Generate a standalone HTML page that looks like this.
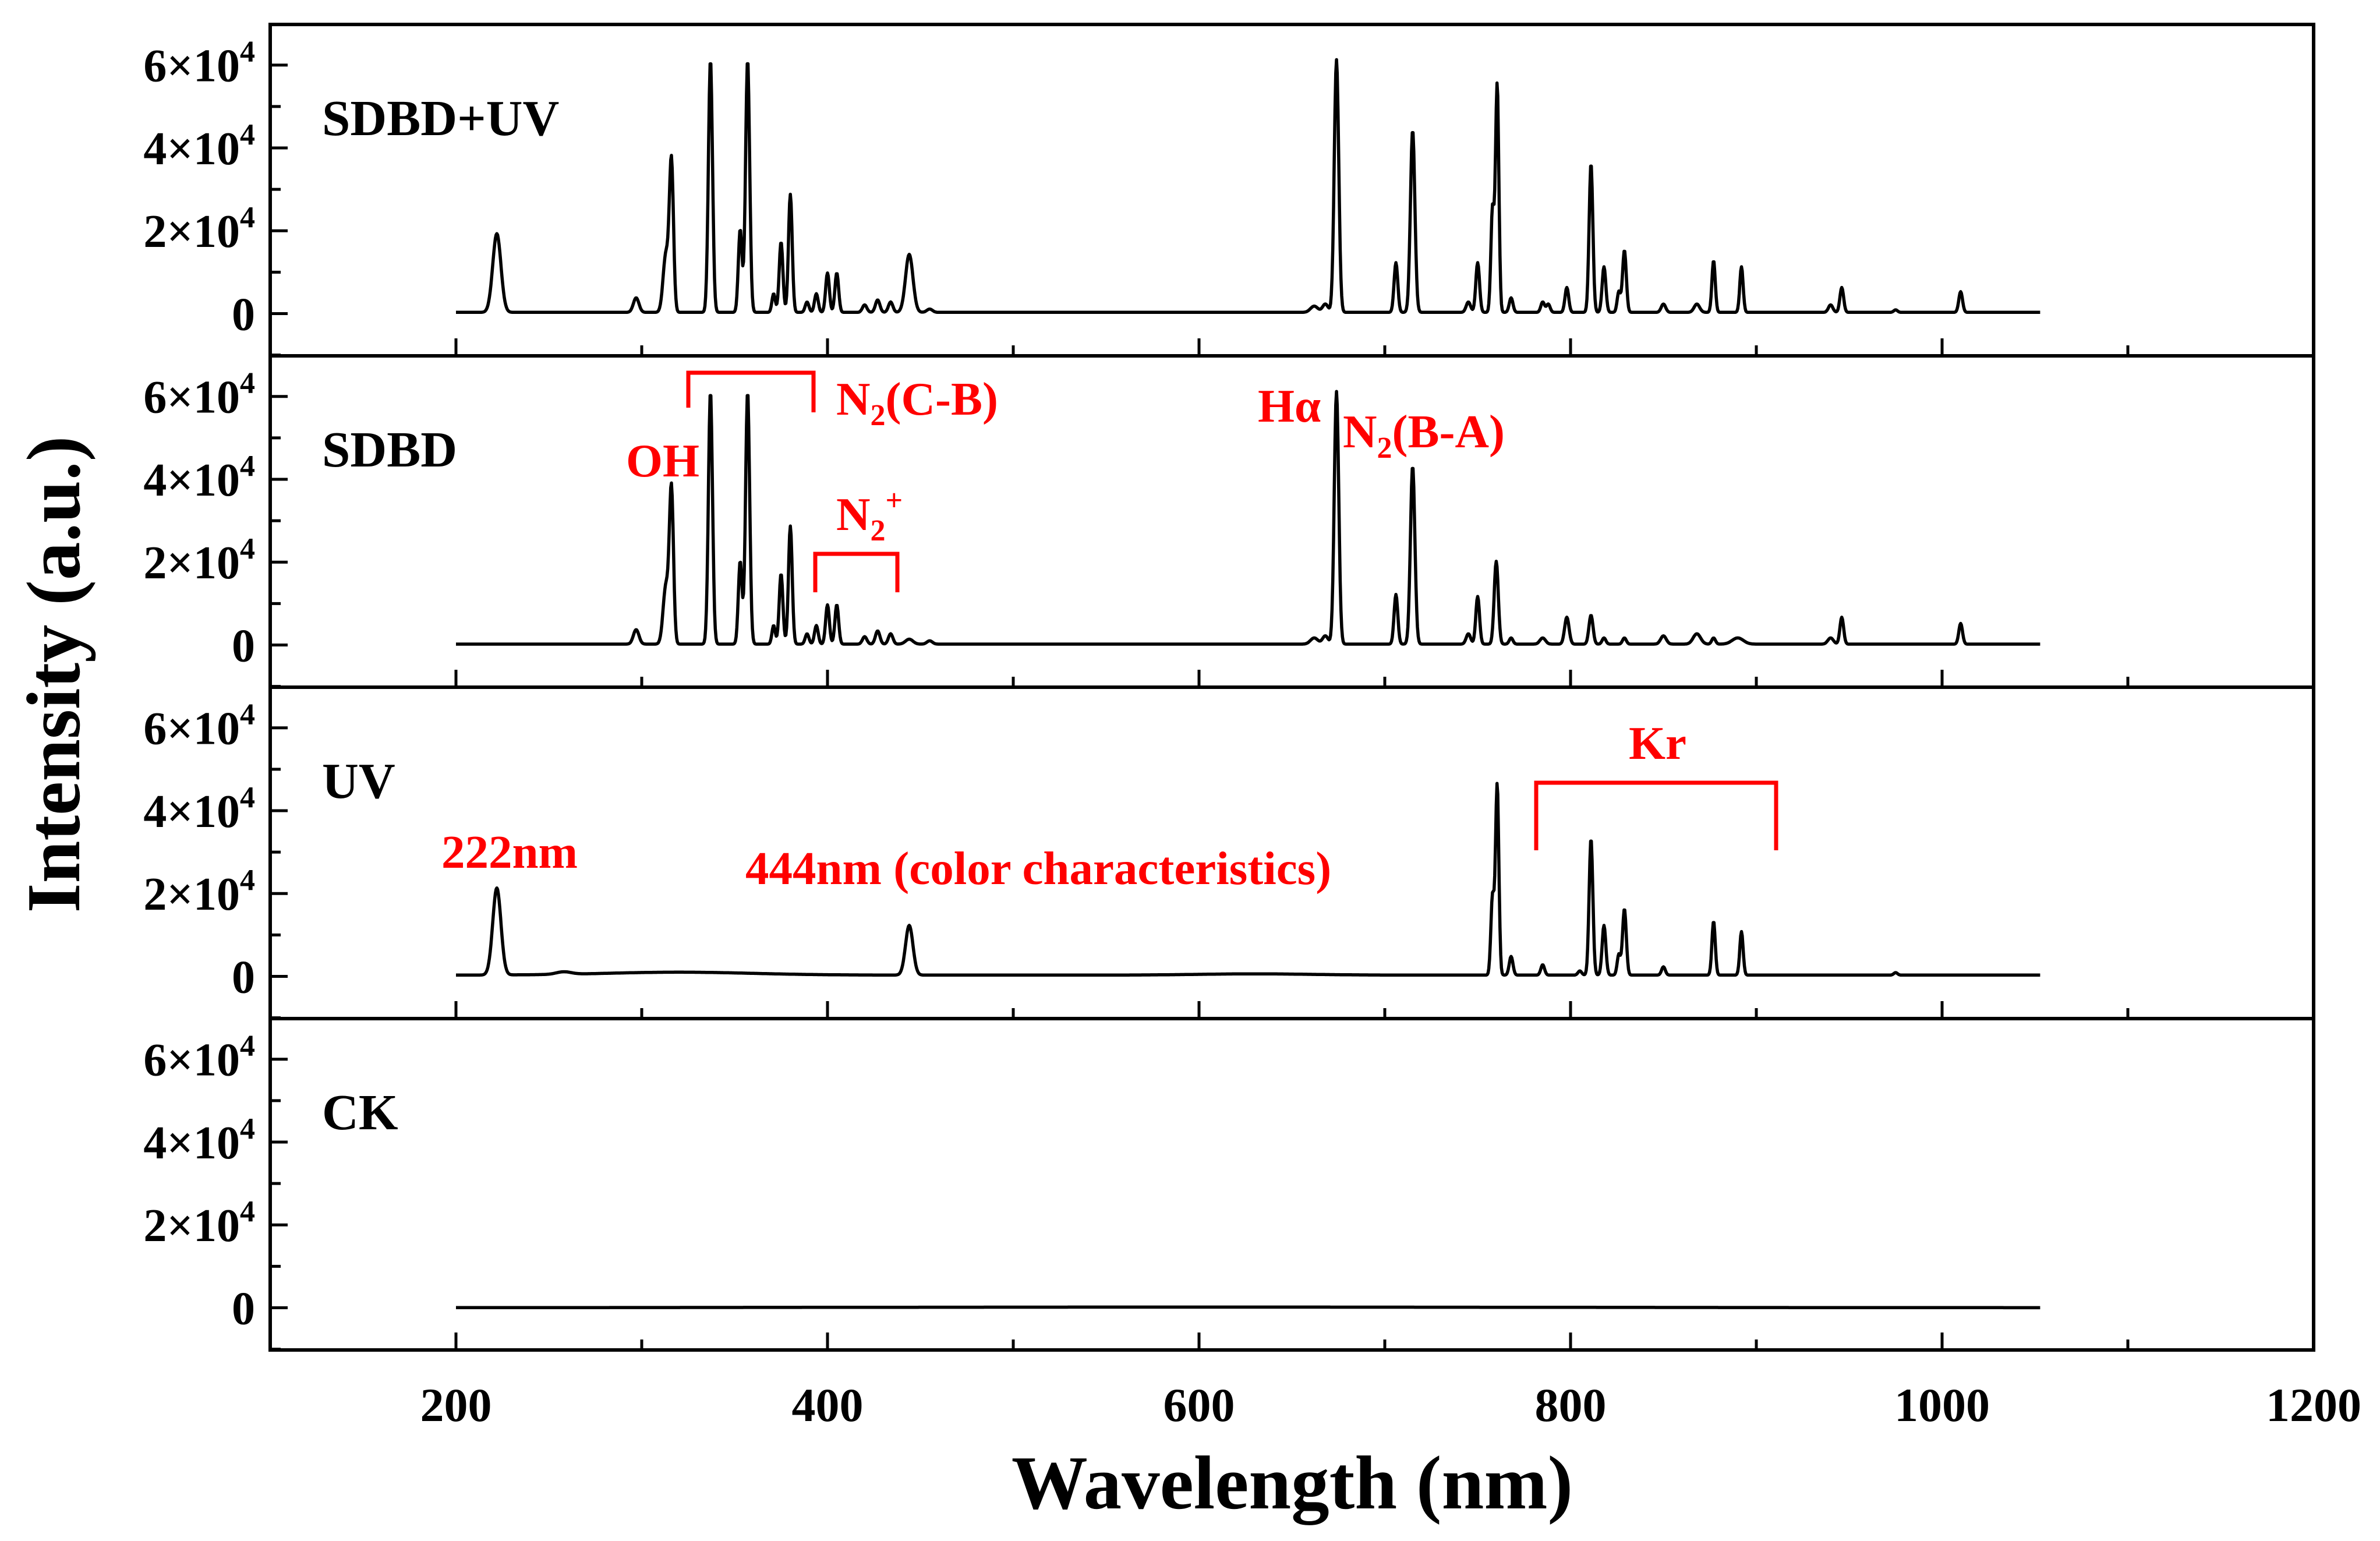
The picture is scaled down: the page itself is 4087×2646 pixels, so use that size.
<!DOCTYPE html>
<html><head><meta charset="utf-8"><style>
html,body{margin:0;padding:0;background:#fff}
svg{display:block}
text{font-family:"Liberation Serif",serif;font-weight:bold}
</style></head><body>
<svg id="chart" width="4087" height="2646" viewBox="0 0 4087 2646" xmlns="http://www.w3.org/2000/svg"></svg>
<script>
// ---- data ----
const panelNames = ["SDBD+UV","SDBD","UV","CK"];
const xTicks = [200,400,600,800,1000,1200];
const yTicks = [0,20000,40000,60000];
const yTickLabels = ["0","2","4","6"];
// peaks: [wavelength nm, height, half-width nm]
const peaksSdbdUv = [[222,19000,2.2],[297,3500,1.5],[313,14000,1.5],[316,36000,1.1],[337,61000,1.1],[353,20000,1],[357,61000,1.1],[371,4500,0.9],[375,17000,1],[380,28500,1],[389,2500,1],[394,4500,1],[400,9500,1],[405,9500,1],[420,1800,1.2],[427,3000,1.2],[434,2500,1.2],[444,14000,2],[455,800,1.5],[662,1500,2],[668,2000,1.5],[674,61000,1.2],[706,12000,1],[715,44000,1.2],[745,2500,1.2],[750,12000,1],[758,25000,0.9],[760.5,55000,0.9],[768,3500,1],[785,2500,1],[788,2000,1],[798,6000,1],[811,36000,1],[818,11000,1],[826,5000,0.9],[829,15000,1],[850,2000,1.2],[868,2000,1.5],[877,12500,0.9],[892,11000,0.9],[940,1800,1.2],[946,6000,1],[975,600,1],[1010,5000,1]];
const peaksSdbd = [[297,3500,1.5],[313,14000,1.5],[316,37000,1.1],[337,61000,1.1],[353,20000,1],[357,61000,1.1],[371,4500,0.9],[375,17000,1],[380,28500,1],[389,2500,1],[394,4500,1],[400,9500,1],[405,9500,1],[420,1800,1.2],[427,3200,1.2],[434,2500,1.2],[444,1200,2],[455,800,1.5],[662,1500,2],[668,2000,1.5],[674,61000,1.2],[706,12000,1],[715,43000,1.2],[745,2500,1.2],[750,11500,1],[760,20000,1.1],[768,1500,1],[785,1500,1.5],[798,6500,1.2],[811,7000,1.1],[818,1500,1],[829,1500,1],[850,2000,1.5],[868,2500,2],[877,1500,1],[890,1500,3],[940,1500,1.5],[946,6500,1],[1010,5000,1]];
const peaksUv = [[222,21000,2.2],[258,600,4],[320,700,40],[444,12000,2],[630,300,30],[758,19000,0.9],[760.5,46000,0.9],[768,4500,1],[785,2500,1],[805,1000,1],[811,33000,1],[818,12000,1],[826,5000,0.9],[829,16000,1],[850,2000,1],[877,13000,0.9],[892,10500,0.9],[975,600,1]];
const peaksCk = [[600,150,200]];
const seriesPeaks = [peaksSdbdUv, peaksSdbd, peaksUv, peaksCk];
const baselines = [300, 200, 300, 0];
const wlStart = 200, wlEnd = 1053;

// ---- layout ----
const L=464, R=3973, T=42, B=2318, PH=(B-T)/4;
const xMin=100, xMax=1200, yMin=-10200, yMax=69800;
const xs = v => L + (v-xMin)/(xMax-xMin)*(R-L);
const ys = (v,p) => T + p*PH + (yMax-v)/(yMax-yMin)*PH;
const NS="http://www.w3.org/2000/svg";
const svg=document.getElementById('chart');
function mk(tag,attrs,parent){const e=document.createElementNS(NS,tag);for(const k in attrs)e.setAttribute(k,attrs[k]);(parent||svg).appendChild(e);return e;}

for(let p=0;p<4;p++){
  const g=mk('g',{});
  
  
  for(let v=-10000;v<=60000;v+=10000){
    const y=ys(v,p); const major=(v%20000===0)&&v>=0;
    const t=mk('line',{x1:L,x2:L+(major?30:18),y1:y,y2:y,stroke:'#000','stroke-width':5},g);
    
    
  }
  yTicks.forEach((v,i)=>{
    const tx=mk('text',{x:L-26,y:ys(v,p)+28,'text-anchor':'end','font-size':80},g);
    
    
    if(v===0){tx.textContent='0';}
    else{tx.textContent=yTickLabels[i]+'×10';const s=mk('tspan',{dy:-34,'font-size':52},tx);s.textContent='4';}
  });
  const yb=T+(p+1)*PH;
  for(let v=200;v<=1200;v+=100){
    const major=v%200===0;
    const t=mk('line',{x1:xs(v),x2:xs(v),y1:yb,y2:yb-(major?30:18),stroke:'#000','stroke-width':5},g);
    
    
  }
  const pk=seriesPeaks[p]; let d='';
  for(let w=wlStart;w<=wlEnd;w+=0.4){
    let val=baselines[p];
    for(const q of pk){const z=(w-q[0])/q[2];val+=q[1]*Math.exp(-0.5*z*z);}
    d+=(d?'L':'M')+xs(w).toFixed(1)+','+ys(val,p).toFixed(1);
  }
  const path=mk('path',{d:d,fill:'none',stroke:'#000','stroke-width':5.5,'stroke-linejoin':'round'},g);
  
  
  const lab=mk('text',{x:553,y:T+p*PH+190,'font-size':87},g);
  
  
  lab.textContent=panelNames[p];
  if(p>0){
    const sep=mk('line',{x1:L,x2:R,y1:T+p*PH,y2:T+p*PH,stroke:'#000','stroke-width':6},g);
    
    
  }
}
const frame=mk('rect',{x:L,y:T,width:R-L,height:B-T,fill:'none',stroke:'#000','stroke-width':6});


xTicks.forEach(v=>{
  const t=mk('text',{x:xs(v),y:2440,'text-anchor':'middle','font-size':82});
  
  
  t.textContent=String(v);
});
const xt=mk('text',{x:2219,y:2590,'text-anchor':'middle','font-size':131});


xt.textContent='Wavelength (nm)';
const yt=mk('text',{x:0,y:0,'text-anchor':'middle','font-size':131,transform:'translate(136,1158) rotate(-90)'});


yt.textContent='Intensity (a.u.)';
</script>
<svg style="position:absolute;left:0;top:0" width="4087" height="2646">
<g fill="none" stroke="#ff0000" stroke-width="7">
<polyline points="1182,700 1182,640 1397,640 1397,708"/>
<polyline points="1400,1017 1400,951 1541,951 1541,1017"/>
<polyline points="2638,1460 2638,1344 3050,1344 3050,1460"/>
</g>
<g fill="#ff0000" font-family="Liberation Serif, serif" font-weight="bold" font-size="81">
<text x="1436" y="712">N<tspan font-size="52" dy="18">2</tspan><tspan dy="-18">(C-B)</tspan></text>
<text x="1075" y="818">OH</text>
<text x="2160" y="724">Hα</text>
<text x="2306" y="768">N<tspan font-size="52" dy="18">2</tspan><tspan dy="-18">(B-A)</tspan></text>
<text x="1436" y="910">N<tspan font-size="52" dy="18">2</tspan><tspan font-size="52" dy="-52">+</tspan></text>
<text x="2797" y="1303">Kr</text>
<text x="758" y="1490">222nm</text>
<text x="1280" y="1518">444nm (color characteristics)</text>
</g>
</svg>
</body></html>
